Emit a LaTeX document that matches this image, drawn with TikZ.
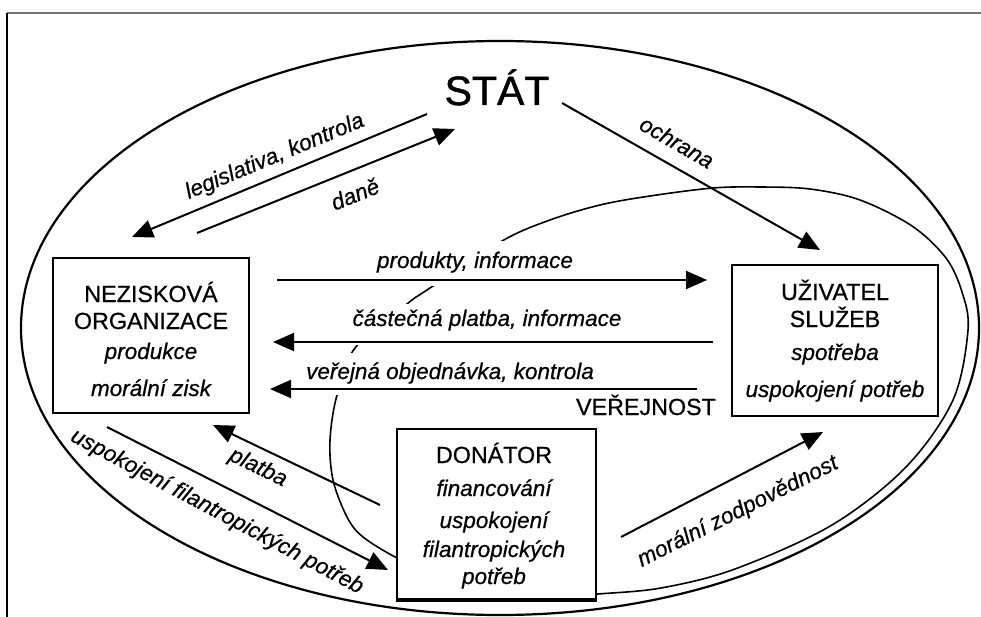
\documentclass[tikz,border=0pt]{standalone}
\usepackage{fontspec}
\setmainfont{Liberation Sans}[FakeBold=0.6]
\newfontfamily\statfont{Liberation Sans}[FakeBold=1.2]
\usetikzlibrary{arrows.meta}
\begin{document}
\begin{tikzpicture}[x=1pt,y=-1pt,
  box/.style={draw, line width=2pt, fill=white, inner sep=0pt},
  ttl/.style={anchor=base, font=\fontsize{23.3}{28}\selectfont, inner sep=0pt},
  itm/.style={anchor=base, font=\fontsize{22.5}{27}\selectfont\itshape, inner sep=0pt},
  lbl/.style={font=\fontsize{22.5}{27}\selectfont\itshape, inner sep=0pt},
  mask/.style={lbl, anchor=base, fill=white},
  arr/.style={line width=2pt, -{Triangle[length=21pt,width=18pt]}},
  outer/.style={line width=2.2pt},
  inner/.style={line width=1.6pt}]
\useasboundingbox (0,0) rectangle (981,617);
% frame
\draw[black!55, line width=1.5pt] (7,13) -- (981,13);
\draw[line width=1.3pt] (7,13) -- (7,617);
% outer ellipse
\draw[outer] (500,328) ellipse [x radius=479pt, y radius=287pt];
% inner curve (VEREJNOST)
\draw[inner] plot[smooth, tension=0.55] coordinates {
 (420,566) (397,558) (363,537) (347,517) (333,480) (330,440) (337,395)
 (355,348) (407,304) (427,290) (502,241) (550,220) (600,205) (650,196)
 (713,188) (760,187) (810,189) (860,200) (912,226) (946,258) (962,292)
 (968,330) (953,400) (906,467) (832,525) (735,569) (661,588) (598,594)
 (570,596)};
% masking labels
\node[mask, text height=27pt, text depth=18pt] (lprod) at (475,268) {produkty, informace};
\node[mask, text height=22pt, text depth=19pt] (lcast) at (487,326) {částečná platba, informace};
\node[mask, text height=26pt, text depth=16pt] (lver) at (450,379) {veřejná objednávka, kontrola};
% boxes
\node[box, minimum width=196pt, minimum height=155pt] (nez) at (151,335.5) {};
\node[box, minimum width=206pt, minimum height=151pt] (uziv) at (835,340.5) {};
\node[box, minimum width=199pt, minimum height=170pt] (don) at (496.5,514) {};
\draw[line width=3pt] (don.south west) -- (don.south east);
% box texts
\node[ttl] (nez1) at (151,302) {NEZISKOVÁ};
\node[ttl] (nez2) at (151,329) {ORGANIZACE};
\node[itm] (nez3) at (151,359) {produkce};
\node[itm] (nez4) at (151,396) {morální zisk};
\node[ttl] (uz1) at (835,300) {UŽIVATEL};
\node[ttl] (uz2) at (835,327) {SLUŽEB};
\node[itm] (uz3) at (835,360) {spotřeba};
\node[itm] (uz4) at (835,397) {uspokojení potřeb};
\node[ttl] (do1) at (494,463) {DONÁTOR};
\node[itm] (do2) at (494,496) {financování};
\node[itm] (do3) at (494,528) {uspokojení};
\node[itm] (do4) at (494,557) {filantropických};
\node[itm] (do5) at (494,584) {potřeb};
% titles
\node[anchor=base, font=\statfont\fontsize{41}{48}\selectfont, inner sep=0pt] (stat) at (497,105) {STÁT};
\node[ttl] (verej) at (646,415) {VEŘEJNOST};
% arrow end points
\coordinate (legA) at (427,114); \coordinate (legB) at (132,237);
\coordinate (danA) at (197,233); \coordinate (danB) at (455,129);
\coordinate (ochA) at (562,103); \coordinate (ochB) at (820,250);
\coordinate (proA) at (277,280); \coordinate (proB) at (707,280);
\coordinate (casA) at (713,342); \coordinate (casB) at (273,342);
\coordinate (verA) at (697,389); \coordinate (verB) at (270,389);
\coordinate (plaA) at (380,505); \coordinate (plaB) at (213,425);
\coordinate (uspA) at (107,427); \coordinate (uspB) at (388,570);
\coordinate (morA) at (621,537); \coordinate (morB) at (823,432);
% arrows
\draw[arr] (legA) -- (legB);
\draw[arr] (danA) -- (danB);
\draw[arr] (ochA) -- (ochB);
\draw[arr] (proA) -- (proB);
\draw[arr] (casA) -- (casB);
\draw[arr] (verA) -- (verB);
\draw[arr] (plaA) -- (plaB);
\draw[arr] (uspA) -- (uspB);
\draw[arr] (morA) -- (morB);
% rotated labels
\node[lbl, rotate=22.6] (lleg) at (275,157) {legislativa, kontrola};
\node[lbl, rotate=22] (ldan) at (355,194) {daně};
\node[lbl, rotate=-30] (loch) at (677,142) {ochrana};
\node[lbl, rotate=-26] (lpla) at (258,468) {platba};
\node[lbl, rotate=-28] (lusp) at (217,512) {uspokojení filantropických potřeb};
\node[lbl, rotate=26.7] (lmor) at (738,512) {morální zodpovědnost};
\end{tikzpicture}
\end{document}
